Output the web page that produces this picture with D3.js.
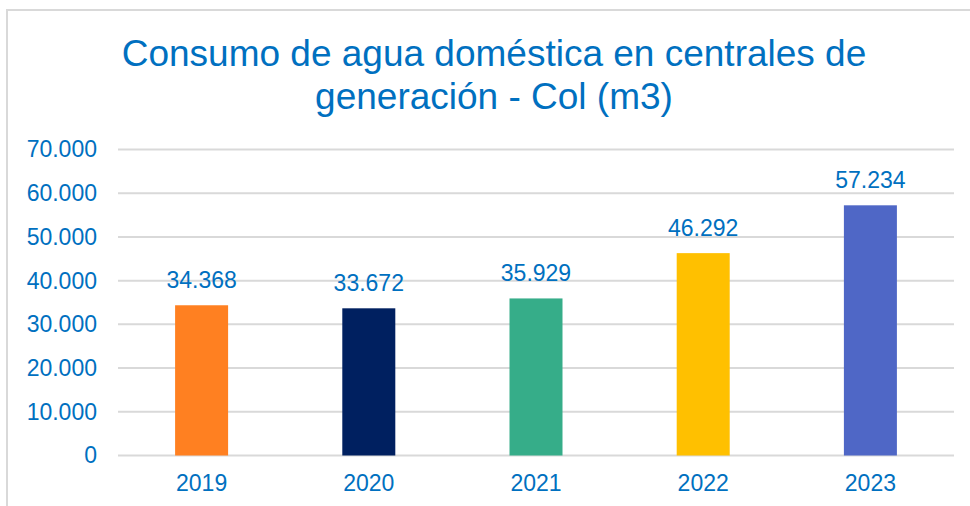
<!DOCTYPE html>
<meta charset="utf-8">
<style>
    body { margin: 0; background: #fff; }
    text { font-family: "Liberation Sans", Arial, sans-serif; fill: #0070C0; }
</style>
<body>
<script src="https://d3js.org/d3.v7.min.js"></script>
<script>
    // chart data
    var years = ['2019', '2020', '2021', '2022', '2023'];
    var consumo = [34368, 33672, 35929, 46292, 57234];
    var barColors = ['#FF8021', '#002060', '#36AD89', '#FFC000', '#4F67C6'];
    var yTicks = [0, 10000, 20000, 30000, 40000, 50000, 60000, 70000];
    var titleLines = ['Consumo de agua doméstica en centrales de', 'generación - Col (m3)'];

    var width = 970,
        height = 506,
        margin = {top: 149.5, right: 16, bottom: 50.5, left: 118};

    // thousands separator is a dot
    var fmt = d3.formatLocale({decimal: ',', thousands: '.', grouping: [3], currency: ['$', '']}).format(',d');

    var svg = d3.select('body')
        .append('svg')
        .attr('width', width)
        .attr('height', height);

    // chart frame (only the top and left edges are in view)
    svg.append('path')
        .attr('d', 'M7,' + height + 'V10H' + width)
        .attr('fill', 'none')
        .attr('stroke', '#d9d9d9')
        .attr('stroke-width', 2);

    svg.append('text')
        .attr('text-anchor', 'middle')
        .attr('font-size', 37)
        .selectAll('tspan')
        .data(titleLines)
        .enter().append('tspan')
        .attr('x', 494)
        .attr('y', (d, i) => 66 + i * 43)
        .text(d => d);

    var x = d3.scaleBand()
        .domain(years)
        .range([margin.left, width - margin.right])
        .paddingInner(0.683)
        .paddingOuter(0.3415);

    var y = d3.scaleLinear()
        .domain([0, 70000])
        .range([height - margin.bottom, margin.top]);

    // gridlines
    svg.append('g')
        .selectAll('line')
        .data(yTicks)
        .enter().append('line')
        .attr('x1', margin.left)
        .attr('x2', width - margin.right)
        .attr('y1', d => y(d))
        .attr('y2', d => y(d))
        .attr('stroke', '#d9d9d9')
        .attr('stroke-width', 2);

    // y axis labels
    var yAxis = svg.append('g')
        .attr('transform', 'translate(' + (margin.left - 10) + ',0)')
        .call(d3.axisLeft(y).tickValues(yTicks).tickFormat(fmt).tickSize(0).tickPadding(11));
    yAxis.select('.domain').remove();
    yAxis.selectAll('text')
        .attr('font-size', 23)
        .attr('fill', '#0070C0')
        .style('font-family', '"Liberation Sans", Arial, sans-serif');

    // x axis labels
    var xAxis = svg.append('g')
        .attr('transform', 'translate(0,' + y(0) + ')')
        .call(d3.axisBottom(x).tickSize(0).tickPadding(19));
    xAxis.select('.domain').remove();
    xAxis.selectAll('text')
        .attr('font-size', 23)
        .attr('fill', '#0070C0')
        .style('font-family', '"Liberation Sans", Arial, sans-serif');

    // bars
    svg.append('g')
        .selectAll('rect')
        .data(consumo)
        .enter().append('rect')
        .attr('x', (d, i) => x(years[i]))
        .attr('width', x.bandwidth())
        .attr('y', d => y(d))
        .attr('height', d => y(0) - y(d))
        .attr('fill', (d, i) => barColors[i]);

    // value labels
    svg.append('g')
        .selectAll('text')
        .data(consumo)
        .enter().append('text')
        .attr('x', (d, i) => x(years[i]) + x.bandwidth() / 2)
        .attr('y', d => y(d) - 17)
        .attr('text-anchor', 'middle')
        .attr('font-size', 23)
        .text(d => fmt(d));
</script>
</body>
</html>
